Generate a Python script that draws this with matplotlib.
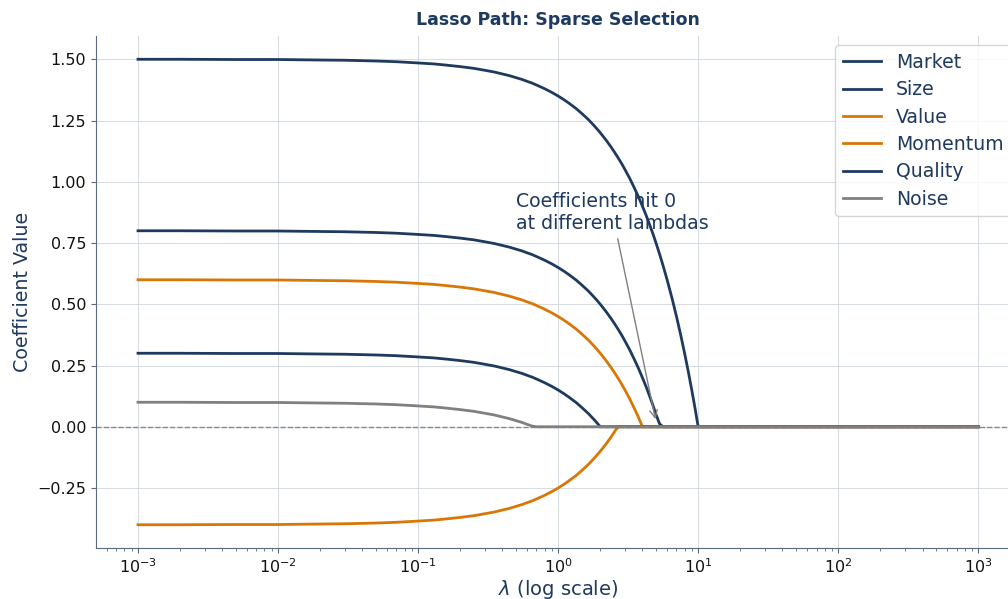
import matplotlib
matplotlib.use("Agg")
import matplotlib.pyplot as plt

lambdas = [0.001, 0.002, 0.005, 0.01, 0.02, 0.03, 0.05, 0.07, 0.1, 0.13, 0.16, 0.2,
           0.25, 0.3, 0.35, 0.4, 0.45, 0.5, 0.55, 0.6, 0.65, 0.7, 0.8, 0.9, 1.0, 1.1,
           1.2, 1.35, 1.5, 1.65, 1.8, 1.9, 2.0, 2.2, 2.4, 2.6, 2.7, 2.85, 3.0, 3.25,
           3.5, 3.75, 4.0, 4.25, 4.5, 4.75, 5.0, 5.3, 5.6, 6.0, 6.5, 7.0, 7.5, 8.0,
           8.5, 9.0, 9.5, 10.0, 100.0, 1000.0]

market = [1.500, 1.500, 1.499, 1.499, 1.497, 1.496, 1.493, 1.490, 1.485, 1.481, 1.476,
          1.470, 1.463, 1.455, 1.448, 1.440, 1.433, 1.425, 1.418, 1.410, 1.403, 1.395,
          1.380, 1.365, 1.350, 1.335, 1.320, 1.298, 1.275, 1.253, 1.230, 1.215, 1.200,
          1.170, 1.140, 1.110, 1.095, 1.073, 1.050, 1.013, 0.975, 0.938, 0.900, 0.863,
          0.825, 0.788, 0.750, 0.705, 0.660, 0.600, 0.525, 0.450, 0.375, 0.300, 0.225,
          0.150, 0.075, 0.000, 0.000, 0.000]
size = [0.800, 0.800, 0.799, 0.799, 0.797, 0.796, 0.793, 0.790, 0.785, 0.781, 0.776,
        0.770, 0.763, 0.755, 0.748, 0.740, 0.733, 0.725, 0.718, 0.710, 0.703, 0.695,
        0.680, 0.665, 0.650, 0.635, 0.620, 0.598, 0.575, 0.553, 0.530, 0.515, 0.500,
        0.470, 0.440, 0.410, 0.395, 0.373, 0.350, 0.313, 0.275, 0.238, 0.200, 0.163,
        0.125, 0.088, 0.050, 0.012] + [0.0] * 12
value = [0.600, 0.600, 0.599, 0.599, 0.597, 0.596, 0.593, 0.590, 0.585, 0.581, 0.576,
         0.570, 0.563, 0.555, 0.548, 0.540, 0.533, 0.525, 0.518, 0.510, 0.503, 0.495,
         0.480, 0.465, 0.450, 0.435, 0.420, 0.398, 0.375, 0.353, 0.330, 0.315, 0.300,
         0.270, 0.240, 0.210, 0.195, 0.173, 0.150, 0.113, 0.075, 0.038, 0.000] + [0.0] * 17
momentum = [-0.400, -0.400, -0.399, -0.399, -0.397, -0.396, -0.393, -0.390, -0.385,
            -0.381, -0.376, -0.370, -0.363, -0.355, -0.348, -0.340, -0.333, -0.325,
            -0.318, -0.310, -0.303, -0.295, -0.280, -0.265, -0.250, -0.235, -0.220,
            -0.198, -0.175, -0.153, -0.130, -0.115, -0.100, -0.070, -0.040, -0.010] + [0.0] * 24
quality = [0.300, 0.300, 0.299, 0.299, 0.297, 0.296, 0.293, 0.290, 0.285, 0.281, 0.276,
           0.270, 0.263, 0.255, 0.248, 0.240, 0.233, 0.225, 0.218, 0.210, 0.203, 0.195,
           0.180, 0.165, 0.150, 0.135, 0.120, 0.098, 0.075, 0.053, 0.030, 0.015, 0.000] + [0.0] * 27
noise = [0.100, 0.100, 0.099, 0.099, 0.097, 0.096, 0.093, 0.090, 0.085, 0.081, 0.076,
         0.070, 0.063, 0.055, 0.048, 0.040, 0.033, 0.025, 0.018, 0.010, 0.003] + [0.0] * 39

names = ["Market", "Size", "Value", "Momentum", "Quality", "Noise"]
series = [market, size, value, momentum, quality, noise]

NAVY = "#1f3a5f"
ORANGE = "#d97706"
GRAY = "#808080"
colors = [NAVY, NAVY, ORANGE, ORANGE, NAVY, GRAY]

fig = plt.figure(figsize=(10.08, 5.99), dpi=100)
ax = fig.add_axes([0.0952, 0.0851, 0.917, 0.8548])

ax.axhline(0, color="#888888", lw=1, ls="--", zorder=1)
for name, vals, c in zip(names, series, colors):
    ax.plot(lambdas, vals, color=c, lw=2, label=name, zorder=2)

ax.set_xscale("log")
ax.grid(True, color="#cfd5de", lw=0.8, alpha=0.8)
ax.set_axisbelow(True)
for s in ["top", "right"]:
    ax.spines[s].set_visible(False)
for s in ["left", "bottom"]:
    ax.spines[s].set_color("#5a6b80")
ax.tick_params(labelsize=11.5, colors="#111111")
ax.tick_params(axis="both", which="both", color="#5a6b80")

ax.set_xlabel(r"$\lambda$ (log scale)", fontsize=14, color=NAVY, labelpad=1)
ax.set_ylabel("Coefficient Value", fontsize=13.7, color=NAVY)
ax.set_title("Lasso Path: Sparse Selection", fontsize=12.5, fontweight="bold", color=NAVY, pad=8)

ax.annotate("Coefficients hit 0\nat different lambdas", xy=(5.0, 0.02), xytext=(0.5, 0.79),
            fontsize=13.6, color=NAVY, ha="left", va="bottom",
            arrowprops=dict(arrowstyle="->", color=GRAY, lw=1))

leg = ax.legend(loc="upper right", fontsize=13.6, frameon=True, fancybox=True,
                labelspacing=0.44)
for t in leg.get_texts():
    t.set_color(NAVY)
leg.get_frame().set_edgecolor("#cccccc")

fig.savefig("out.png", dpi=100)
